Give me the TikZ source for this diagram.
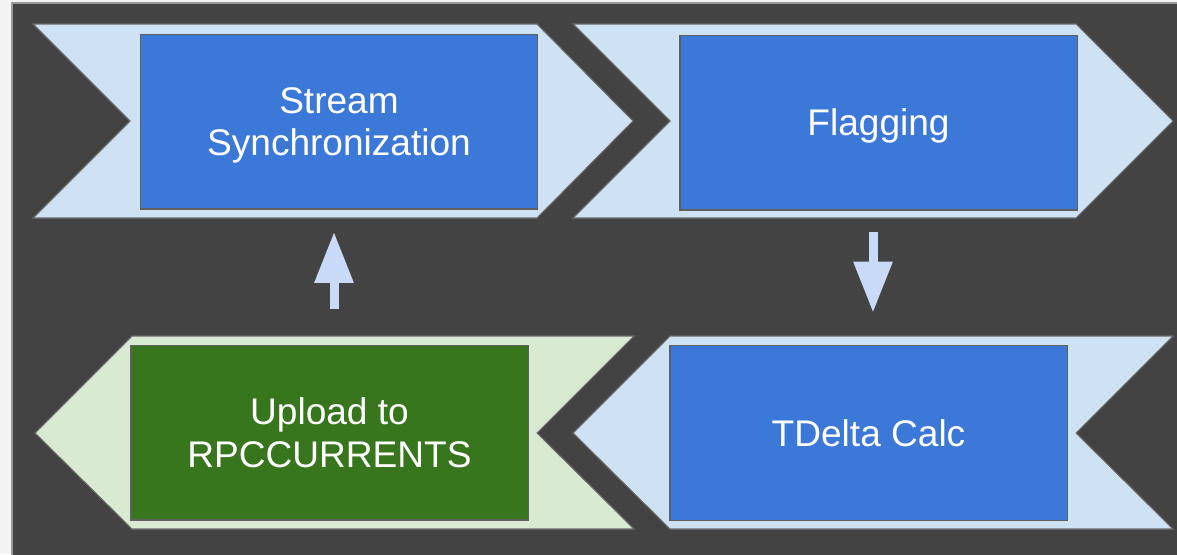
\documentclass[tikz,border=0pt]{standalone}
\usepackage{fontspec}
\setmainfont{Liberation Sans}
\usetikzlibrary{arrows.meta, backgrounds, calc, positioning}

\definecolor{slate}{HTML}{434343}
\definecolor{paper}{HTML}{F3F3F3}
\definecolor{rimgray}{HTML}{5F5F5F}
\definecolor{chevrim}{HTML}{6A6A6A}
\definecolor{chevblue}{HTML}{CFE2F3}
\definecolor{chevgreen}{HTML}{D9EAD3}
\definecolor{stageblue}{HTML}{3C78D8}
\definecolor{stagegreen}{HTML}{38761D}
\definecolor{arrowblue}{HTML}{C9DAF8}

\begin{document}
\begin{tikzpicture}[x=0.75pt, y=-0.75pt, font=\fontsize{27.8}{32}\selectfont]
\tikzset{every node/.style={inner sep=1mm, outer sep=0mm}}

\tikzstyle{stage}=[rectangle, draw=rimgray, line width=1pt, fill=stageblue, text=white, align=center, minimum width=298pt, minimum height=131pt]
\tikzstyle{done}=[stage, fill=stagegreen]
\tikzstyle{nodesc}=[text depth=0pt]
\tikzstyle{chev}=[draw=chevrim, line width=0.8pt, fill=chevblue]
\tikzstyle{flow}=[-{Triangle[width=27.75pt, length=38.25pt]}, line width=6.75pt, draw=arrowblue]

\useasboundingbox (0,0) rectangle (1177,554);

\node[stage, nodesc] (sync) at (339,121.5) {Stream\\Synchronization};
\node[stage, nodesc] (flag) at (878.5,122.5) {Flagging};
\node[stage] (tdelta) at (868.5,433) {TDelta Calc};
\node[done] (upload) at (329.5,432.5) {Upload to\\RPCCURRENTS};

\begin{scope}[on background layer]
    \fill[paper] (0,0) rectangle (1177,554);
    \draw[fill=slate, draw=gray!80, line width=0.8pt] (12,3) rectangle (1180,557);
    % top row points right, bottom row points left
    \draw[chev] (33,24) -- (537,24) -- (633,121) -- (537,218) -- (33,218) -- (130,121) -- cycle;
    \draw[chev] (573,24) -- (1076,24) -- (1173,121) -- (1076,218) -- (573,218) -- (670,121) -- cycle;
    \draw[chev, fill=chevgreen] (35,433) -- (132,336) -- (634,336) -- (537,433) -- (634,529) -- (132,529) -- cycle;
    \draw[chev] (573,433) -- (670,336) -- (1173,336) -- (1076,433) -- (1173,529) -- (670,529) -- cycle;
\end{scope}

\draw[flow, shorten <=16.5pt, shorten >=24.75pt] ($(flag.south)+(-5.5,0)$) -- ($(tdelta.north)+(4.5,0)$);
\draw[flow, shorten <=27pt, shorten >=17.25pt] ($(upload.north)+(4.5,0)$) -- ($(sync.south)+(-5,0)$);

\end{tikzpicture}
\end{document}
